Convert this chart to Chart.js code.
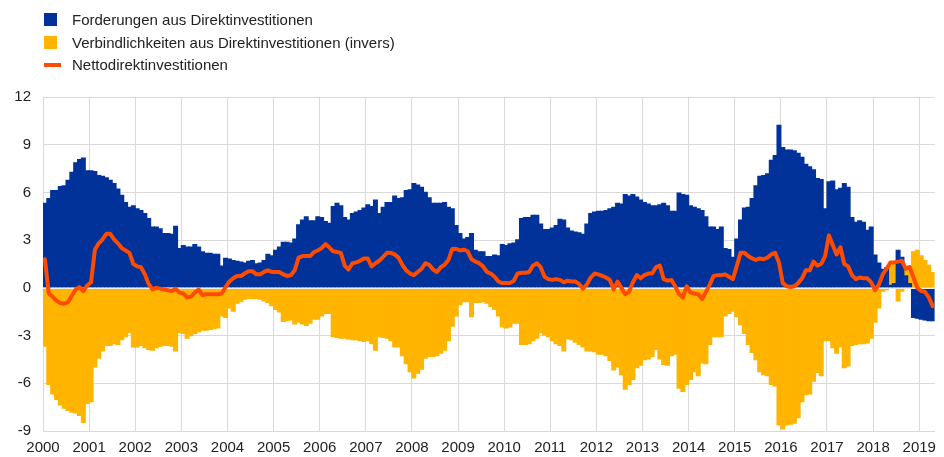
<!DOCTYPE html>
<html lang="de">
<head>
<meta charset="utf-8">
<title>Direktinvestitionen</title>
<script src="https://cdn.jsdelivr.net/npm/chart.js@4.4.1/dist/chart.umd.min.js"></script>
<style>
  html, body { margin: 0; padding: 0; background: #fff; }
  #wrap { position: relative; width: 944px; height: 457px; }
  #fdi { position: absolute; left: 0; top: 0; }
  #legend { position: absolute; left: 44px; top: 8px; font: 15px Arial, 'Liberation Sans', sans-serif; color: #222; }
  .row { display: flex; align-items: center; height: 22.7px; white-space: nowrap; }
  .mark { width: 13px; height: 13px; margin-right: 15px; flex: none; }
  .mark.line { width: 17px; height: 4px; margin-right: 11px; }
</style>
</head>
<body>
<div id="wrap">
  <canvas id="fdi" width="944" height="457"></canvas>
  <div id="legend"></div>
</div>
<script>
// Monthly values, Jan 2000 - Apr 2019
var years = [2000, 2001, 2002, 2003, 2004, 2005, 2006, 2007, 2008, 2009,
             2010, 2011, 2012, 2013, 2014, 2015, 2016, 2017, 2018, 2019];

var yTicks = [-9, -6, -3, 0, 3, 6, 9, 12];

var assets = [
  5.35, 5.65, 6.15, 6.15, 6.4, 6.45, 6.8, 7.3, 7.9, 8.1, 8.2, 7.4,          // 2000
  7.4, 7.35, 7.1, 7.05, 6.95, 6.8, 6.6, 6.25, 5.85, 5.4, 5.1, 5.2,          // 2001
  5.0, 4.9, 4.7, 4.4, 3.85, 3.85, 3.75, 3.45, 3.45, 3.4, 3.9, 2.5,          // 2002
  2.7, 2.6, 2.6, 2.75, 2.6, 2.3, 2.2, 2.2, 2.15, 2.15, 1.4, 1.9,            // 2003
  1.85, 1.75, 1.7, 1.65, 1.6, 1.7, 1.75, 1.55, 1.6, 1.75, 2.15, 2.05,       // 2004
  2.4, 2.6, 2.9, 2.9, 2.85, 3.1, 4.0, 4.3, 4.5, 4.25, 4.25, 4.5,            // 2005
  4.45, 4.2, 4.1, 5.15, 5.35, 5.2, 4.45, 4.3, 4.7, 4.8, 4.9, 5.05,          // 2006
  5.25, 5.15, 5.55, 4.7, 5.1, 5.4, 5.4, 5.8, 5.65, 5.7, 6.15, 6.2,          // 2007
  6.6, 6.5, 6.35, 6.05, 5.7, 5.35, 5.35, 5.35, 5.4, 5.1, 5.0, 3.95,         // 2008
  3.45, 3.1, 3.2, 3.45, 2.4, 2.3, 2.3, 2.0, 2.0, 2.1, 2.05, 2.75,           // 2009
  2.7, 2.8, 2.85, 3.05, 4.4, 4.45, 4.45, 4.6, 4.6, 4.05, 3.7, 3.7,          // 2010
  3.8, 3.95, 4.35, 4.3, 3.8, 3.6, 3.55, 3.5, 3.4, 4.05, 4.7, 4.8,           // 2011
  4.85, 4.85, 4.9, 5.0, 5.1, 5.35, 5.3, 5.9, 5.8, 5.9, 5.75, 5.55,          // 2012
  5.4, 5.3, 5.2, 5.2, 5.25, 5.35, 5.2, 4.85, 4.85, 6.0, 5.9, 5.85,          // 2013
  5.2, 5.1, 5.0, 4.9, 4.5, 3.85, 3.85, 3.7, 3.85, 2.5, 2.45, 1.95,          // 2014
  3.1, 4.3, 5.05, 5.1, 5.65, 6.45, 7.05, 7.1, 7.2, 8.05, 8.35, 10.25,       // 2015
  8.85, 8.7, 8.7, 8.65, 8.5, 8.25, 7.8, 7.65, 7.45, 6.9, 6.85, 5.0,         // 2016
  6.7, 6.75, 6.2, 6.3, 6.6, 6.35, 4.45, 4.15, 4.25, 4.15, 3.65, 3.85,       // 2017
  2.1, 1.6, 1.2, 1.3, 0.2, 0.3, 2.4, 1.95, 0.8, 0.3, -1.9, -1.95,           // 2018
  -2.0, -2.05, -2.1, -2.1                                                   // 2019
];

var liabilities = [
  -3.7, -6.1, -6.7, -7.05, -7.4, -7.6, -7.75, -7.85, -7.9, -8.05, -8.5, -7.3,   // 2000
  -7.2, -5.0, -4.45, -4.0, -3.65, -3.65, -3.55, -3.6, -3.3, -3.1, -2.85, -3.75, // 2001
  -3.75, -3.65, -3.8, -3.9, -3.95, -3.8, -3.7, -3.65, -3.65, -3.7, -4.0, -2.85, // 2002
  -2.9, -3.2, -3.05, -2.9, -2.8, -2.7, -2.7, -2.65, -2.6, -2.55, -1.8, -1.9,    // 2003
  -1.3, -1.5, -1.0, -0.9, -0.75, -0.7, -0.7, -0.7, -0.75, -0.85, -0.95, -1.15,  // 2004
  -1.4, -1.55, -2.15, -2.1, -2.05, -2.3, -2.2, -2.3, -2.4, -2.25, -2.0, -2.0,   // 2005
  -1.8, -1.65, -1.65, -3.1, -3.15, -3.2, -3.2, -3.25, -3.3, -3.3, -3.35, -3.4,  // 2006
  -3.35, -3.55, -3.95, -3.1, -3.15, -3.2, -3.35, -3.75, -3.75, -4.3, -4.8, -5.3, // 2007
  -5.7, -5.4, -5.15, -4.45, -4.35, -4.35, -4.3, -4.15, -3.95, -3.35, -2.45, -1.8, // 2008
  -1.1, -0.9, -0.9, -1.85, -0.95, -0.95, -0.9, -1.0, -1.2, -1.4, -1.8, -2.5,    // 2009
  -2.55, -2.5, -2.25, -2.25, -3.6, -3.6, -3.55, -3.35, -3.2, -2.85, -3.0, -3.1, // 2010
  -3.35, -3.55, -3.65, -4.0, -3.25, -3.3, -3.45, -3.6, -3.75, -4.0, -4.0, -4.05, // 2011
  -4.2, -4.2, -4.3, -4.6, -5.2, -5.0, -5.5, -6.4, -6.1, -5.8, -5.05, -4.9,      // 2012
  -4.55, -4.5, -4.35, -3.9, -4.5, -4.85, -4.9, -4.3, -4.2, -6.35, -6.55, -6.1,  // 2013
  -5.8, -5.3, -5.55, -4.75, -4.8, -3.6, -3.1, -3.1, -3.1, -1.8, -1.65, -1.5,    // 2014
  -1.85, -2.35, -2.9, -3.6, -4.1, -4.55, -5.3, -5.5, -5.55, -6.1, -6.2, -8.65,  // 2015
  -8.9, -8.65, -8.6, -8.55, -8.2, -7.2, -6.75, -6.7, -5.9, -5.35, -5.55, -3.35, // 2016
  -3.35, -3.8, -4.15, -3.75, -5.05, -4.95, -3.65, -3.6, -3.55, -3.55, -3.5, -3.2, // 2017
  -2.2, -1.3, -0.25, -0.15, 1.2, 1.3, -0.85, -0.25, 0.6, 1.1, 2.3, 2.4,         // 2018
  2.05, 1.75, 1.45, 1.0                                                         // 2019
];

var net = [
  1.8, -0.35, -0.55, -0.8, -0.95, -1.0, -0.9, -0.5, -0.1, 0.05, -0.2, 0.15,     // 2000
  0.35, 2.4, 2.8, 3.05, 3.4, 3.4, 3.05, 2.8, 2.5, 2.35, 2.2, 1.5,               // 2001
  1.35, 1.3, 0.85, 0.25, -0.1, 0.0, -0.05, -0.1, -0.15, -0.2, -0.05, -0.3,      // 2002
  -0.35, -0.6, -0.55, -0.3, -0.1, -0.45, -0.4, -0.4, -0.4, -0.4, -0.35, 0.05,   // 2003
  0.4, 0.6, 0.75, 0.75, 0.9, 1.05, 1.05, 0.85, 0.85, 1.0, 1.1, 1.0,             // 2004
  1.0, 1.0, 0.85, 0.75, 0.8, 1.1, 1.9, 2.0, 2.0, 2.0, 2.25, 2.35,               // 2005
  2.5, 2.75, 2.55, 2.3, 2.25, 2.2, 1.4, 1.15, 1.55, 1.6, 1.7, 1.85,             // 2006
  1.85, 1.35, 1.55, 1.7, 1.95, 2.2, 2.2, 2.1, 1.9, 1.45, 1.1, 0.9,              // 2007
  0.8, 1.0, 1.2, 1.55, 1.45, 1.15, 1.0, 1.3, 1.45, 1.75, 2.45, 2.45,            // 2008
  2.35, 2.4, 2.3, 1.8, 1.65, 1.55, 1.35, 1.0, 0.9, 0.7, 0.4, 0.3,               // 2009
  0.3, 0.3, 0.45, 0.9, 0.95, 0.95, 1.0, 1.4, 1.55, 1.3, 0.7, 0.55,              // 2010
  0.5, 0.55, 0.5, 0.35, 0.45, 0.4, 0.4, 0.25, -0.05, 0.2, 0.65, 0.9,            // 2011
  0.85, 0.75, 0.65, 0.5, -0.1, 0.4, 0.0, -0.4, -0.25, 0.35, 0.8, 0.6,           // 2012
  0.8, 0.9, 0.9, 1.3, 1.4, 0.55, 0.45, 0.5, 0.1, -0.4, -0.6, 0.1,               // 2013
  -0.3, -0.35, -0.4, -0.7, -0.25, 0.2, 0.75, 0.8, 0.8, 0.85, 0.7, 0.55,         // 2014
  1.35, 2.2, 2.2, 2.0, 1.85, 1.75, 1.85, 1.8, 1.9, 2.1, 2.2, 1.6,               // 2015
  0.3, 0.1, 0.05, 0.1, 0.3, 0.6, 1.1, 1.1, 1.65, 1.4, 1.5, 2.0,                 // 2016
  3.3, 2.7, 2.1, 2.55, 1.5, 1.35, 0.8, 0.55, 0.65, 0.6, 0.6, 0.35,              // 2017
  -0.15, 0.2, 0.85, 1.2, 1.6, 1.6, 1.65, 1.7, 1.2, 1.3, 0.65, 0.0,              // 2018
  -0.2, -0.25, -0.6, -1.15                                                      // 2019
];

var FONT = "Arial, 'Liberation Sans', sans-serif";
var BLUE = '#003299', YELLOW = '#ffb400', ORANGE = '#ff4b00', GRID = '#d9d9d9', INK = '#222222';

// month i sits in the middle of its slot on the linear x axis
function points(arr) {
  return arr.map(function (v, i) { return { x: i + 0.5, y: v }; });
}

// thin light line along zero, over the bars but under the net line
var zeroLine = {
  id: 'zeroLine',
  beforeDatasetDraw: function (chart, args) {
    if (args.meta.type !== 'line') return;
    var a = chart.chartArea, ctx = chart.ctx;
    var y = Math.round(chart.scales.y.getPixelForValue(0)) + 0.5;
    ctx.save();
    ctx.strokeStyle = '#ececec';
    ctx.lineWidth = 1;
    ctx.beginPath(); ctx.moveTo(a.left, y); ctx.lineTo(a.right, y); ctx.stroke();
    ctx.restore();
  }
};

// bars overlap a touch so neighbouring months don't leave hairline seams
function bars(label, data, color) {
  return {
    type: 'bar', label: label, data: points(data), backgroundColor: color,
    borderWidth: 0, barPercentage: 1.3, categoryPercentage: 1, stack: 'fdi', order: 1
  };
}

var chart = new Chart(document.getElementById('fdi'), {
  data: {
    datasets: [
      bars('Forderungen aus Direktinvestitionen', assets, BLUE),
      bars('Verbindlichkeiten aus Direktinvestitionen (invers)', liabilities, YELLOW),
      {
        type: 'line', label: 'Nettodirektinvestitionen', data: points(net),
        borderColor: ORANGE, backgroundColor: ORANGE, borderWidth: 4,
        pointRadius: 0, tension: 0, borderJoinStyle: 'round', borderCapStyle: 'round',
        stack: 'net', order: 0
      }
    ]
  },
  options: {
    responsive: false, animation: false,
    layout: { padding: { top: 97, right: 5, left: 0, bottom: 0 } },
    plugins: { legend: { display: false }, tooltip: { enabled: false } },
    scales: {
      x: {
        type: 'linear', min: 0, max: assets.length, offset: false, stacked: true,
        afterFit: function (s) { s.height = 26; },
        afterBuildTicks: function (s) { s.ticks = years.map(function (y, k) { return { value: k * 12 }; }); },
        grid: { color: GRID, drawTicks: false, offset: false },
        border: { color: GRID },
        ticks: {
          padding: 8, autoSkip: false, maxRotation: 0, color: INK,
          font: { family: FONT, size: 15 },
          callback: function (v) { return String(years[Math.round(v / 12)]); }
        }
      },
      y: {
        stacked: true, min: -9, max: 12,
        afterFit: function (s) { s.width = 43; },
        afterBuildTicks: function (s) { s.ticks = yTicks.map(function (v) { return { value: v }; }); },
        grid: { color: GRID, drawTicks: false },
        border: { color: GRID },
        ticks: { padding: 12, color: INK, font: { family: FONT, size: 15 } }
      }
    }
  },
  plugins: [zeroLine]
});

// vertical legend, built from the datasets
var legend = document.getElementById('legend');
chart.data.datasets.forEach(function (ds) {
  var row = document.createElement('div');
  row.className = 'row';
  var mark = document.createElement('span');
  mark.className = ds.type === 'line' ? 'mark line' : 'mark';
  mark.style.background = ds.type === 'line' ? ds.borderColor : ds.backgroundColor;
  var text = document.createElement('span');
  text.textContent = ds.label;
  row.appendChild(mark);
  row.appendChild(text);
  legend.appendChild(row);
});
</script>
</body>
</html>
